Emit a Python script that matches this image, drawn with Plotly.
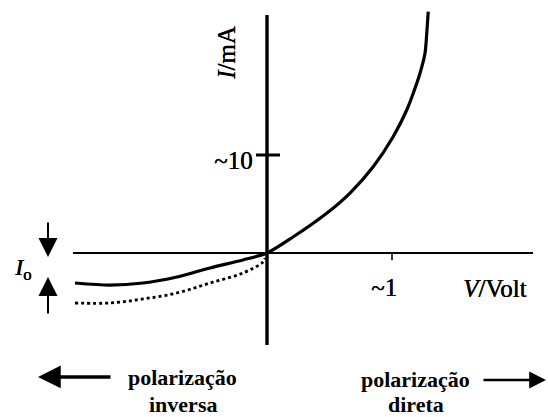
import plotly.graph_objects as go

# Diode I-V characteristic (schematic): voltage in volts, current in mA
v_real = [-1.536, -1.256, -0.992, -0.72, -0.456, -0.192, 0.0, 0.208, 0.48,
          0.664, 0.848, 1.008, 1.118, 1.17, 1.224, 1.264, 1.278, 1.29]
i_real = [-3.06, -3.27, -3.06, -2.45, -1.53, -0.71, 0.0, 1.63, 4.08,
          6.12, 8.78, 11.84, 14.59, 16.3, 18.34, 20.38, 22.42, 24.62]

# Ideal reverse-bias branch (dotted)
v_ideal = [-1.536, -1.256, -0.992, -0.72, -0.456, -0.192, -0.032, -0.016]
i_ideal = [-5.10, -5.10, -4.69, -4.08, -3.06, -2.04, -0.92, -0.51]

# Axis extents and tick labels
v_axis = [-1.552, 2.128]
i_axis = [-9.39, 24.29]
tick_i = 10
tick_v = 1
tick_i_label = "~10"
tick_v_label = "~1"

# Bias-direction captions: (line 1, line 2)
reverse_caption = ["polarização", "inversa"]
forward_caption = ["polarização", "direta"]

PX_V = 125.0   # pixels per volt
PX_I = 9.8     # pixels per mA
X0, Y0 = 267, 253
W, H = 548, 417
x_range = [-X0 / PX_V, (W - X0) / PX_V]
y_range = [(Y0 - H) / PX_I, Y0 / PX_I]

FONT = "Liberation Serif, Times New Roman, serif"
HEAVY = "0.5px 0 0 #000"

fig = go.Figure()

fig.add_trace(go.Scatter(x=v_ideal, y=i_ideal, mode="lines",
                         line=dict(color="black", width=2.8, dash="dot", shape="spline"),
                         hoverinfo="skip", showlegend=False))
fig.add_trace(go.Scatter(x=v_real, y=i_real, mode="lines",
                         line=dict(color="black", width=3.2, shape="spline", smoothing=0.8),
                         hoverinfo="skip", showlegend=False))

shapes = [
    # horizontal (V) axis
    dict(type="line", x0=v_axis[0], x1=v_axis[1], y0=0, y1=0,
         line=dict(color="black", width=1.8)),
    # vertical (I) axis
    dict(type="line", x0=0, x1=0, y0=i_axis[0], y1=i_axis[1],
         line=dict(color="black", width=3.4)),
    # tick at ~10 mA
    dict(type="line", x0=-0.088, x1=0.104, y0=tick_i, y1=tick_i,
         line=dict(color="black", width=3)),
    # tick at ~1 V
    dict(type="line", x0=tick_v, x1=tick_v, y0=0, y1=-0.75,
         line=dict(color="black", width=1.6)),
]

ann = []
txt = dict(color="black", family=FONT, size=25, shadow=HEAVY)
ann.append(dict(x=-0.328, y=20.4, text="<i>I</i>/mA", textangle=-90,
                showarrow=False, font=txt, xanchor="center", yanchor="middle"))
ann.append(dict(x=-0.096, y=9.4, text=tick_i_label, showarrow=False, font=txt,
                xanchor="right", yanchor="middle"))
ann.append(dict(x=1.056, y=-3.5, text=tick_v_label, showarrow=False, font=txt,
                xanchor="right", yanchor="middle"))
ann.append(dict(x=1.82, y=-3.6, text="<i>V</i>/Volt", showarrow=False, font=txt,
                xanchor="center", yanchor="middle"))
ann.append(dict(x=-1.96, y=-1.6, text="<i>I</i><sub>o</sub>", showarrow=False,
                font=dict(color="black", family=FONT, size=24, shadow=HEAVY),
                xanchor="center", yanchor="middle"))

# arrows bracketing I_o
arrow_common = dict(text="", showarrow=True, axref="x", ayref="y",
                    arrowcolor="black", standoff=0, startstandoff=0)
ann.append(dict(x=-1.752, y=-0.41, ax=-1.752, ay=3.26, arrowhead=2,
                arrowwidth=2, arrowsize=1.9, **arrow_common))
ann.append(dict(x=-1.752, y=-2.45, ax=-1.752, ay=-6.33, arrowhead=2,
                arrowwidth=2, arrowsize=1.9, **arrow_common))

# bias direction arrows
ann.append(dict(x=-1.832, y=-12.65, ax=-1.24, ay=-12.65, arrowhead=2,
                arrowwidth=3.5, arrowsize=1.3, **arrow_common))
ann.append(dict(x=2.232, y=-12.96, ax=1.72, ay=-12.96, arrowhead=2,
                arrowwidth=2.4, arrowsize=1.4, **arrow_common))

cap = dict(color="black", family=FONT, size=22, weight="bold")
for (xc, y1, y2), lines in (((-0.676, -12.7, -15.5), reverse_caption),
                            ((1.19, -12.9, -15.5), forward_caption)):
    ann.append(dict(x=xc, y=y1, text=lines[0], showarrow=False, font=cap,
                    xanchor="center", yanchor="middle"))
    ann.append(dict(x=xc, y=y2, text=lines[1], showarrow=False, font=cap,
                    xanchor="center", yanchor="middle"))

fig.update_layout(
    width=W, height=H,
    margin=dict(l=0, r=0, t=0, b=0),
    paper_bgcolor="white", plot_bgcolor="white",
    xaxis=dict(range=x_range, visible=False, fixedrange=True),
    yaxis=dict(range=y_range, visible=False, fixedrange=True),
    shapes=shapes, annotations=ann, showlegend=False,
)

fig.write_html("out.html")
